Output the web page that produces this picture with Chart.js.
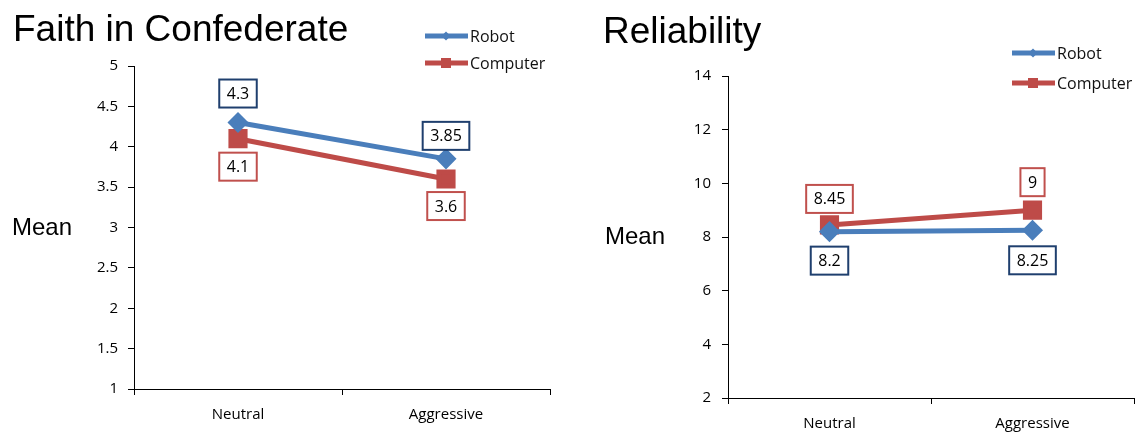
<!DOCTYPE html>
<html>
<head>
<meta charset="utf-8">
<script src="https://cdn.jsdelivr.net/npm/chart.js@4"></script>
<style>
    html, body { margin: 0; padding: 0; background: #fff; width: 1137px; height: 432px; overflow: hidden; }
    .panel { position: absolute; top: 0; height: 432px; }
</style>
</head>
<body>
<div class="panel" style="left:0;width:569px"><canvas id="faithChart" width="569" height="432"></canvas></div>
<div class="panel" style="left:569px;width:580px"><canvas id="reliabilityChart" width="580" height="432"></canvas></div>
<script>
// Data
const conditions = ['Neutral', 'Aggressive'];
const seriesNames = ['Robot', 'Computer'];

const faithRobot = [4.3, 3.85];
const faithComputer = [4.1, 3.6];
const faithTicks = [1, 1.5, 2, 2.5, 3, 3.5, 4, 4.5, 5];

const reliabilityRobot = [8.2, 8.25];
const reliabilityComputer = [8.45, 9];
const reliabilityTicks = [2, 4, 6, 8, 10, 12, 14];

const robotColor = '#4a7ebb';
const computerColor = '#be4b48';
const tickFont = { family: '"Open Sans", sans-serif', size: 15 };

// Draws titles, the "Mean" label, the legend and the boxed value labels
const decorPlugin = {
    id: 'decor',
    afterDatasetsDraw(chart, args, opts) {
        const ctx = chart.ctx;
        ctx.save();

        // boxed value labels
        ctx.font = '16px "Open Sans", sans-serif';
        ctx.textAlign = 'center';
        ctx.textBaseline = 'middle';
        chart.data.datasets.forEach((ds, i) => {
            const meta = chart.getDatasetMeta(i);
            meta.data.forEach((pt, j) => {
                const text = String(ds.data[j]);
                const w = ctx.measureText(text).width + 15;
                const h = 28;
                const cy = pt.y + opts.labelOffsets[i][j];
                ctx.fillStyle = '#fff';
                ctx.fillRect(pt.x - w / 2, cy - h / 2, w, h);
                ctx.strokeStyle = ds.labelBorder;
                ctx.lineWidth = 2;
                ctx.strokeRect(pt.x - w / 2, cy - h / 2, w, h);
                ctx.fillStyle = '#000';
                ctx.fillText(text, pt.x, cy + 1);
            });
        });

        // legend
        chart.data.datasets.forEach((ds, i) => {
            const x = opts.legendX;
            const y = opts.legendY + i * opts.legendGap;
            ctx.strokeStyle = ds.borderColor;
            ctx.lineWidth = 5;
            ctx.beginPath();
            ctx.moveTo(x, y);
            ctx.lineTo(x + 43, y);
            ctx.stroke();
            ctx.fillStyle = ds.borderColor;
            const mx = x + 21;
            if (ds.pointStyle === 'rect') {
                ctx.fillRect(mx - 5, y - 5, 10, 10);
            } else {
                ctx.beginPath();
                ctx.moveTo(mx, y - 4.5);
                ctx.lineTo(mx + 4.5, y);
                ctx.lineTo(mx, y + 4.5);
                ctx.lineTo(mx - 4.5, y);
                ctx.closePath();
                ctx.fill();
            }
            ctx.fillStyle = '#111';
            ctx.font = '16px "Open Sans", sans-serif';
            ctx.textAlign = 'left';
            ctx.textBaseline = 'middle';
            ctx.fillText(ds.label, x + 45, y + 1);
        });

        // title and axis name
        ctx.fillStyle = '#000';
        ctx.textAlign = 'left';
        ctx.textBaseline = 'alphabetic';
        ctx.font = '37px "Liberation Sans", Arial, sans-serif';
        ctx.fillText(opts.title, opts.titleX, opts.titleY);
        ctx.font = '24px "Liberation Sans", Arial, sans-serif';
        ctx.textBaseline = 'middle';
        ctx.fillText('Mean', opts.meanX, opts.meanY);

        ctx.restore();
    }
};

function makeChart(canvasId, robotData, computerData, ticks, layout, decor) {
    const ctx = document.getElementById(canvasId).getContext('2d');
    return new Chart(ctx, {
        type: 'line',
        data: {
            labels: conditions,
            datasets: [{
                label: seriesNames[0],
                data: robotData,
                borderColor: robotColor,
                backgroundColor: robotColor,
                borderWidth: 5,
                pointStyle: 'rectRot',
                pointRadius: 7,
                pointBackgroundColor: robotColor,
                pointBorderColor: robotColor,
                labelBorder: '#1f3f6e',
                tension: 0
            }, {
                label: seriesNames[1],
                data: computerData,
                borderColor: computerColor,
                backgroundColor: computerColor,
                borderWidth: 5,
                pointStyle: 'rect',
                pointRadius: 10,
                pointBackgroundColor: computerColor,
                pointBorderColor: computerColor,
                labelBorder: '#c0504d',
                tension: 0
            }]
        },
        options: {
            responsive: false,
            animation: false,
            layout: { padding: layout.padding },
            plugins: {
                legend: { display: false },
                tooltip: { enabled: false },
                decor: decor
            },
            scales: {
                x: {
                    offset: true,
                    grid: { offset: true, drawOnChartArea: false, drawTicks: true, tickLength: 6, color: '#000' },
                    border: { color: '#000', width: 1 },
                    ticks: { font: tickFont, color: '#000', padding: layout.xPad, maxRotation: 0 },
                    afterFit: (scale) => { scale.height = layout.xHeight; }
                },
                y: {
                    min: ticks[0],
                    max: ticks[ticks.length - 1],
                    grid: { drawOnChartArea: false, drawTicks: true, tickLength: 6, color: '#000' },
                    border: { color: '#000', width: 1 },
                    ticks: {
                        stepSize: ticks[1] - ticks[0],
                        font: tickFont,
                        color: '#000',
                        padding: layout.yPad,
                        callback: (v) => String(v)
                    },
                    afterFit: (scale) => { scale.width = layout.yWidth; }
                }
            }
        },
        plugins: [decorPlugin]
    });
}

makeChart('faithChart', faithRobot, faithComputer, faithTicks,
    { padding: { top: 66, right: 19, left: 0, bottom: 0 }, yWidth: 134, xHeight: 43, xPad: 11, yPad: 10 },
    {
        title: 'Faith in Confederate', titleX: 13, titleY: 41,
        meanX: 12, meanY: 228,
        legendX: 425, legendY: 36, legendGap: 27,
        labelOffsets: [[-29, -23], [28, 27]]
    });

makeChart('reliabilityChart', reliabilityRobot, reliabilityComputer, reliabilityTicks,
    { padding: { top: 76, right: 5, left: 0, bottom: 0 }, yWidth: 159, xHeight: 34, xPad: 11, yPad: 11 },
    {
        title: 'Reliability', titleX: 34, titleY: 43,
        meanX: 36, meanY: 237,
        legendX: 443, legendY: 53, legendGap: 30,
        labelOffsets: [[29, 30], [-26, -28]]
    });
</script>
</body>
</html>
